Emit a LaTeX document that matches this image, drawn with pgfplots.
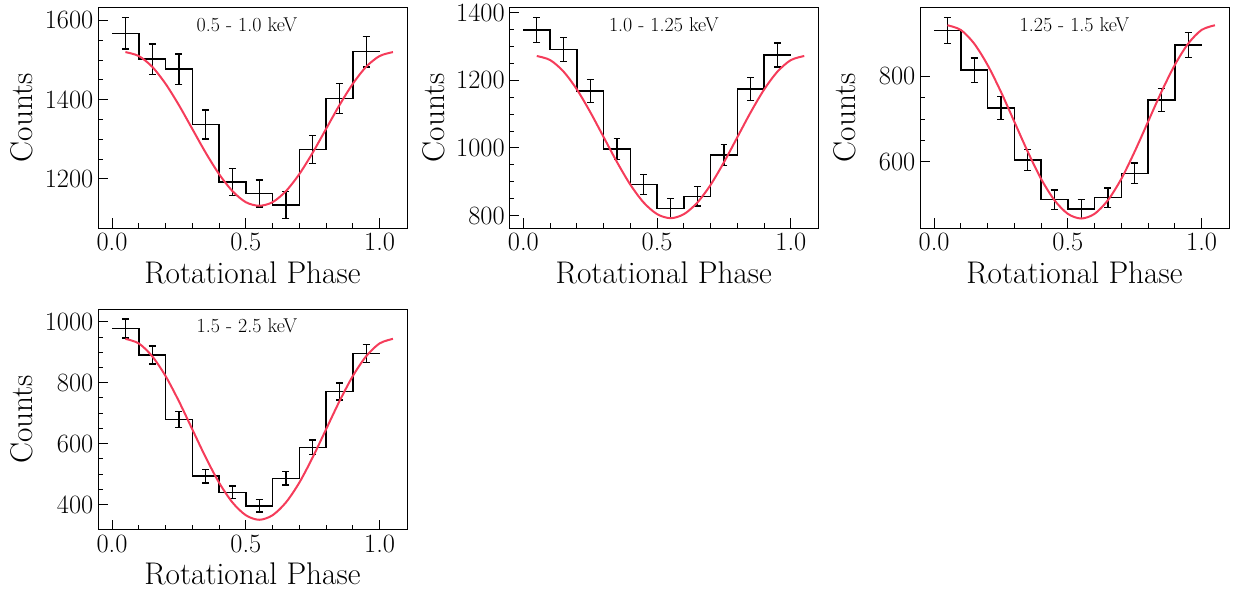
\documentclass[border=0pt]{standalone}
\usepackage{pgfplots}
\pgfplotsset{compat=1.18}
\definecolor{fitred}{RGB}{245,60,90}

% 1 px of the reference = 0.75pt
\pgfplotsset{
  panel/.style={
    scale only axis,
    width=231.75pt, height=165.75pt,
    anchor=north west,
    xmin=-0.0525, xmax=1.1025,
    xtick={0,0.5,1}, xticklabels={0.0,0.5,1.0},
    minor x tick num=4,
    minor y tick num=3,
    tick pos=left, tick align=inside,
    major tick length=7.5pt, minor tick length=3.75pt,
    every tick/.style={black, line width=0.75pt},
    axis line style={line width=0.75pt},
    /pgf/number format/1000 sep={},
    /pgf/number format/assume math mode=true,
    ticklabel style={font=\fontsize{19.8}{22}\selectfont},
    label style={font=\fontsize{23.5}{27}\selectfont},
    xlabel={Rotational Phase},
    ylabel={Counts},
    xlabel style={at={(axis description cs:0.5,0)}, anchor=base, yshift=-41.25pt},
    ylabel style={at={(axis description cs:-0.245,0.5)}, anchor=center},
  },
  steps/.style={black, line width=1.1pt, const plot mark left},
  errs/.style={black, only marks, mark=text, text mark={},
    error bars/.cd, y dir=both, y explicit,
    error mark=-,
    error bar style={black, line width=1pt},
    error mark options={rotate=90, black, line width=1pt, mark size=2.6pt}},
  fit/.style={fitred, line width=1.5pt, smooth},
}
\newcommand{\band}[2]{\node[font=\fontsize{15}{18}\selectfont] at (rel axis cs:#1,0.923) {#2};}

\begin{document}
\begin{tikzpicture}
\useasboundingbox (0,0) rectangle (924.75pt,-444pt);

% ---- 0.5 - 1.0 keV
\begin{axis}[panel, at={(73.5pt,-5.5pt)}, ymin=1075, ymax=1633, ytick={1200,1400,1600}]
\addplot[steps] coordinates {(0,1567) (0.1,1502) (0.2,1477) (0.3,1337) (0.4,1192) (0.5,1163) (0.6,1134) (0.7,1274) (0.8,1403) (0.9,1521) (1.0,1521)};
\addplot[errs] coordinates {(0.05,1567) +- (0,39.6) (0.15,1502) +- (0,38.8) (0.25,1477) +- (0,38.4) (0.35,1337) +- (0,36.6) (0.45,1192) +- (0,34.5) (0.55,1163) +- (0,34.1) (0.65,1134) +- (0,33.7) (0.75,1274) +- (0,35.7) (0.85,1403) +- (0,37.5) (0.95,1521) +- (0,39.0)};
\addplot[fit] coordinates {(0.05,1520) (0.10,1510) (0.15,1483) (0.20,1440) (0.25,1386) (0.30,1326) (0.35,1266) (0.40,1212) (0.45,1169) (0.50,1141) (0.55,1132) (0.60,1141) (0.65,1169) (0.70,1212) (0.75,1266) (0.80,1326) (0.85,1386) (0.90,1440) (0.95,1483) (1.00,1510) (1.05,1520)};
\band{0.482}{0.5 - 1.0 keV}
\end{axis}

% ---- 1.0 - 1.25 keV
\begin{axis}[panel, at={(382pt,-5.5pt)}, ymin=762, ymax=1416, ytick={800,1000,1200,1400}]
\addplot[steps] coordinates {(0,1349) (0.1,1291) (0.2,1169) (0.3,997) (0.4,892) (0.5,821) (0.6,857) (0.7,979) (0.8,1175) (0.9,1275) (1.0,1275)};
\addplot[errs] coordinates {(0.05,1349) +- (0,36.7) (0.15,1291) +- (0,35.9) (0.25,1169) +- (0,34.2) (0.35,997) +- (0,31.6) (0.45,892) +- (0,29.9) (0.55,821) +- (0,28.7) (0.65,857) +- (0,29.3) (0.75,979) +- (0,31.3) (0.85,1175) +- (0,34.3) (0.95,1275) +- (0,35.7)};
\addplot[fit] coordinates {(0.05,1272) (0.10,1260) (0.15,1226) (0.20,1173) (0.25,1106) (0.30,1032) (0.35,958) (0.40,891) (0.45,838) (0.50,804) (0.55,792) (0.60,804) (0.65,838) (0.70,891) (0.75,958) (0.80,1032) (0.85,1106) (0.90,1173) (0.95,1226) (1.00,1260) (1.05,1272)};
\band{0.5}{1.0 - 1.25 keV}
\end{axis}

% ---- 1.25 - 1.5 keV
\begin{axis}[panel, at={(690pt,-5.5pt)}, ymin=444, ymax=962, ytick={600,800}]
\addplot[steps] coordinates {(0,908) (0.1,815) (0.2,726) (0.3,604) (0.4,511) (0.5,489) (0.6,516) (0.7,573) (0.8,745) (0.9,874) (1.0,874)};
\addplot[errs] coordinates {(0.05,908) +- (0,30.1) (0.15,815) +- (0,28.5) (0.25,726) +- (0,26.9) (0.35,604) +- (0,24.6) (0.45,511) +- (0,22.6) (0.55,489) +- (0,22.1) (0.65,516) +- (0,22.7) (0.75,573) +- (0,23.9) (0.85,745) +- (0,27.3) (0.95,874) +- (0,29.6)};
\addplot[fit] coordinates {(0.05,920) (0.10,909) (0.15,877) (0.20,827) (0.25,764) (0.30,694) (0.35,624) (0.40,560) (0.45,510) (0.50,478) (0.55,467) (0.60,478) (0.65,510) (0.70,560) (0.75,624) (0.80,694) (0.85,764) (0.90,827) (0.95,877) (1.00,909) (1.05,920)};
\band{0.5}{1.25 - 1.5 keV}
\end{axis}

% ---- 1.5 - 2.5 keV
\begin{axis}[panel, at={(73.5pt,-231.75pt)}, ymin=316.5, ymax=1042, ytick={400,600,800,1000}]
\addplot[steps] coordinates {(0,978) (0.1,891) (0.2,679) (0.3,493) (0.4,440) (0.5,396) (0.6,486) (0.7,588) (0.8,771) (0.9,896) (1.0,896)};
\addplot[errs] coordinates {(0.05,978) +- (0,31.3) (0.15,891) +- (0,29.8) (0.25,679) +- (0,26.1) (0.35,493) +- (0,22.2) (0.45,440) +- (0,21.0) (0.55,396) +- (0,19.9) (0.65,486) +- (0,22.0) (0.75,588) +- (0,24.2) (0.85,771) +- (0,27.8) (0.95,896) +- (0,29.9)};
\addplot[fit] coordinates {(0.05,944) (0.10,929) (0.15,887) (0.20,822) (0.25,739) (0.30,647) (0.35,555) (0.40,472) (0.45,407) (0.50,365) (0.55,350) (0.60,365) (0.65,407) (0.70,472) (0.75,555) (0.80,647) (0.85,739) (0.90,822) (0.95,887) (1.00,929) (1.05,944)};
\band{0.482}{1.5 - 2.5 keV}
\end{axis}
\end{tikzpicture}
\end{document}
